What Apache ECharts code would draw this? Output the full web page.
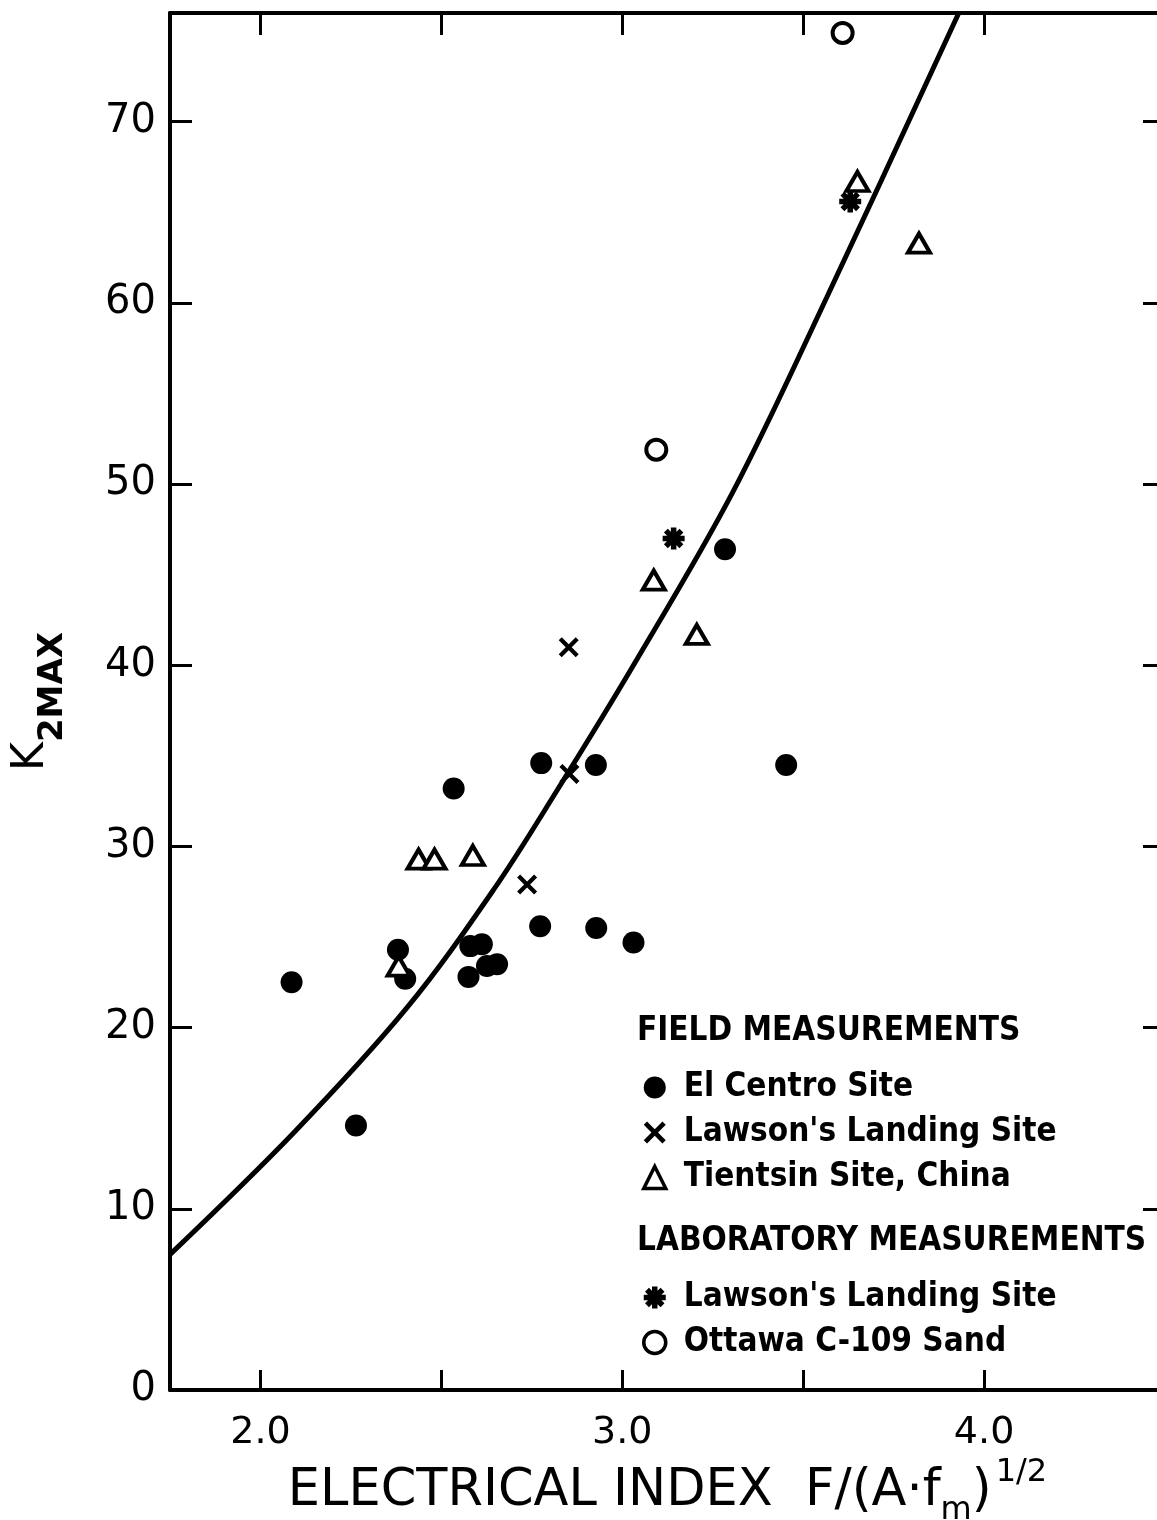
<!DOCTYPE html>
<html>
<head>
<meta charset="utf-8">
<script src="https://cdn.jsdelivr.net/npm/echarts@6/dist/echarts.min.js"></script>
<style>
html,body{margin:0;padding:0;background:#fff;}
#chart{width:1157px;height:1520px;}
</style>
</head>
<body>
<div id="chart"></div>
<script>
// ---- data ----
const elCentroX = [2.086, 2.264, 2.38, 2.40, 2.534, 2.580, 2.575, 2.612, 2.626, 2.654, 2.776, 2.773, 2.927, 2.928, 3.031, 3.284, 3.453];
const elCentroY = [22.5, 14.6, 24.3, 22.7, 33.2, 24.5, 22.8, 24.6, 23.4, 23.5, 34.6, 25.6, 34.5, 25.5, 24.7, 46.4, 34.5];

const lawsonFieldX = [2.852, 2.854, 2.737];
const lawsonFieldY = [41.0, 34.0, 27.9];

const tientsinX = [2.382, 2.437, 2.481, 2.587, 3.087, 3.206, 3.65, 3.82];
const tientsinY = [23.4, 29.3, 29.3, 29.5, 44.7, 41.7, 66.7, 63.3];

const lawsonLabX = [3.142, 3.63];
const lawsonLabY = [47.0, 65.6];

const ottawaX = [3.094, 3.609];
const ottawaY = [51.9, 74.9];

const curveX = [1.751, 2.092, 2.405, 2.644, 2.82, 3.028, 3.304, 3.565, 3.93];
const curveY = [7.5, 14.2, 21.1, 27.6, 33.1, 39.9, 49.5, 60.3, 76.0];

const xTicks = [2.0, 2.5, 3.0, 3.5, 4.0];
const xLabels = [2.0, 3.0, 4.0];
const yTicks = [10, 20, 30, 40, 50, 60, 70];
const yLabels = [0, 10, 20, 30, 40, 50, 60, 70];

const seriesNames = ['El Centro Site', "Lawson's Landing Site", 'Tientsin Site, China', "Lawson's Landing Site (lab)", 'Ottawa C-109 Sand'];
const fieldHeading = 'FIELD MEASUREMENTS';
const labHeading = 'LABORATORY MEASUREMENTS';

// ---- helpers ----
const zip = (xs, ys) => xs.map((x, i) => [x, ys[i]]);
const crossPath = 'path://M0,3 L3,0 L10,7 L17,0 L20,3 L13,10 L20,17 L17,20 L10,13 L3,20 L0,17 L7,10 Z';
const starPath = 'path://M0,7.5 L20,7.5 L20,12.5 L0,12.5 Z M7.5,0 L12.5,0 L12.5,20 L7.5,20 Z M1.16,4.7 L4.7,1.16 L18.84,15.3 L15.3,18.84 Z M15.3,1.16 L18.84,4.7 L4.7,18.84 L1.16,15.3 Z M4.5,10 A5.5,5.5 0 1 1 15.5,10 A5.5,5.5 0 1 1 4.5,10 Z';

const FONT = 'DejaVu Sans';
const LFONT = '"DejaVu Sans Condensed", Roboto, sans-serif';

const chart = echarts.init(document.getElementById('chart'), null, {renderer: 'canvas'});

const tickStyle = {color: '#000', width: 3};
const lineStyle = {color: '#000', width: 4};
const legendText = {fontFamily: LFONT, fontWeight: 'bold', fontSize: 33, color: '#000', lineHeight: 45, padding: [0, 0, 0, 13]};
const openIcon = {color: '#fff', borderColor: '#000', borderWidth: 3.5};

const option = {
  backgroundColor: '#fff',
  animation: false,
  title: [
    {text: fieldHeading, left: 632, top: 1010, textStyle: {fontFamily: LFONT, fontWeight: 'bold', fontSize: 33, color: '#000'}},
    {text: labHeading, left: 632, top: 1220, textStyle: {fontFamily: LFONT, fontWeight: 'bold', fontSize: 33, color: '#000'}}
  ],
  legend: [
    {
      data: [
        {name: seriesNames[0]},
        {name: seriesNames[1]},
        {name: seriesNames[2], itemStyle: openIcon}
      ],
      orient: 'vertical', left: 637, top: 1060, itemGap: 0,
      itemWidth: 22, itemHeight: 22,
      textStyle: legendText,
      selectedMode: false
    },
    {
      data: [
        {name: seriesNames[3]},
        {name: seriesNames[4], itemStyle: openIcon}
      ],
      orient: 'vertical', left: 637, top: 1270, itemGap: 0,
      itemWidth: 22, itemHeight: 22,
      formatter: n => n.replace(' (lab)', ''),
      textStyle: legendText,
      selectedMode: false
    }
  ],
  grid: {left: 170, right: -8, top: 13, bottom: 130, containLabel: false, outerBoundsMode: 'none'},
  xAxis: [
    {
      type: 'value', position: 'bottom', min: 1.75, max: 4.5,
      axisLine: {show: true, onZero: false, lineStyle: lineStyle},
      axisTick: {show: true, inside: true, length: 20, lineStyle: tickStyle, customValues: xTicks},
      axisLabel: {show: true, customValues: xLabels, formatter: v => v.toFixed(1), fontFamily: FONT, fontSize: 38, color: '#000', margin: 24},
      splitLine: {show: false},
      name: '{t|ELECTRICAL INDEX  F/(A·f}{sub|m}{t|)}{sup|1/2}',
      nameLocation: 'middle', nameGap: 66,
      nameTextStyle: {
        rich: {
          t: {fontFamily: FONT, fontSize: 51, color: '#000', lineHeight: 60, verticalAlign: 'bottom'},
          sub: {fontFamily: FONT, fontSize: 32, color: '#000', lineHeight: 60, verticalAlign: 'bottom', padding: [0, 0, -10, 0]},
          sup: {fontFamily: FONT, fontSize: 32, color: '#000', lineHeight: 60, verticalAlign: 'top', padding: [0, 0, 0, 4]}
        }
      }
    },
    {
      type: 'value', position: 'top', min: 1.75, max: 4.5,
      axisLine: {show: true, onZero: false, lineStyle: lineStyle},
      axisTick: {show: true, inside: true, length: 22, lineStyle: tickStyle, customValues: xTicks},
      axisLabel: {show: false},
      splitLine: {show: false}
    }
  ],
  yAxis: [
    {
      type: 'value', position: 'left', min: 0, max: 76,
      axisLine: {show: true, onZero: false, lineStyle: lineStyle},
      axisTick: {show: true, inside: true, length: 22, lineStyle: tickStyle, customValues: yTicks},
      axisLabel: {show: true, customValues: yLabels, fontFamily: FONT, fontSize: 40, color: '#000', margin: 14},
      splitLine: {show: false},
      name: '{k|K}{s|2MAX}',
      nameLocation: 'middle', nameRotate: 90, nameGap: 90,
      nameTextStyle: {
        rich: {
          k: {fontFamily: FONT, fontSize: 44, color: '#000', lineHeight: 70, verticalAlign: 'top'},
          s: {fontFamily: FONT, fontSize: 34, color: '#000', fontWeight: 'bold', lineHeight: 70, verticalAlign: 'top', padding: [26, 0, 0, 0]}
        }
      }
    },
    {
      type: 'value', position: 'right', min: 0, max: 76,
      axisLine: {show: true, onZero: false, lineStyle: lineStyle},
      axisTick: {show: true, inside: true, length: 22, lineStyle: tickStyle, customValues: yTicks},
      axisLabel: {show: false},
      splitLine: {show: false}
    }
  ],
  series: [
    {
      name: 'curve', type: 'line', data: zip(curveX, curveY), smooth: 0.35, showSymbol: false, symbol: 'none',
      lineStyle: {color: '#000', width: 5}, silent: true, z: 1
    },
    {
      name: seriesNames[0], type: 'scatter', data: zip(elCentroX, elCentroY),
      symbol: 'circle', symbolSize: 22, itemStyle: {color: '#000', opacity: 1}, z: 3
    },
    {
      name: seriesNames[1], type: 'scatter', data: zip(lawsonFieldX, lawsonFieldY),
      symbol: crossPath, symbolSize: 20, itemStyle: {color: '#000', opacity: 1}, z: 3
    },
    {
      name: seriesNames[2], type: 'scatter', data: zip(tientsinX, tientsinY),
      symbol: 'triangle', symbolSize: [22, 19], itemStyle: {color: '#fff', borderColor: '#000', borderWidth: 4, opacity: 1}, z: 3
    },
    {
      name: seriesNames[3], type: 'scatter', data: zip(lawsonLabX, lawsonLabY),
      symbol: starPath, symbolSize: 22, itemStyle: {color: '#000', opacity: 1}, z: 3
    },
    {
      name: seriesNames[4], type: 'scatter', data: zip(ottawaX, ottawaY),
      symbol: 'circle', symbolSize: 20, itemStyle: {color: '#fff', borderColor: '#000', borderWidth: 4, opacity: 1}, z: 3
    }
  ]
};
chart.setOption(option);
</script>
</body>
</html>
